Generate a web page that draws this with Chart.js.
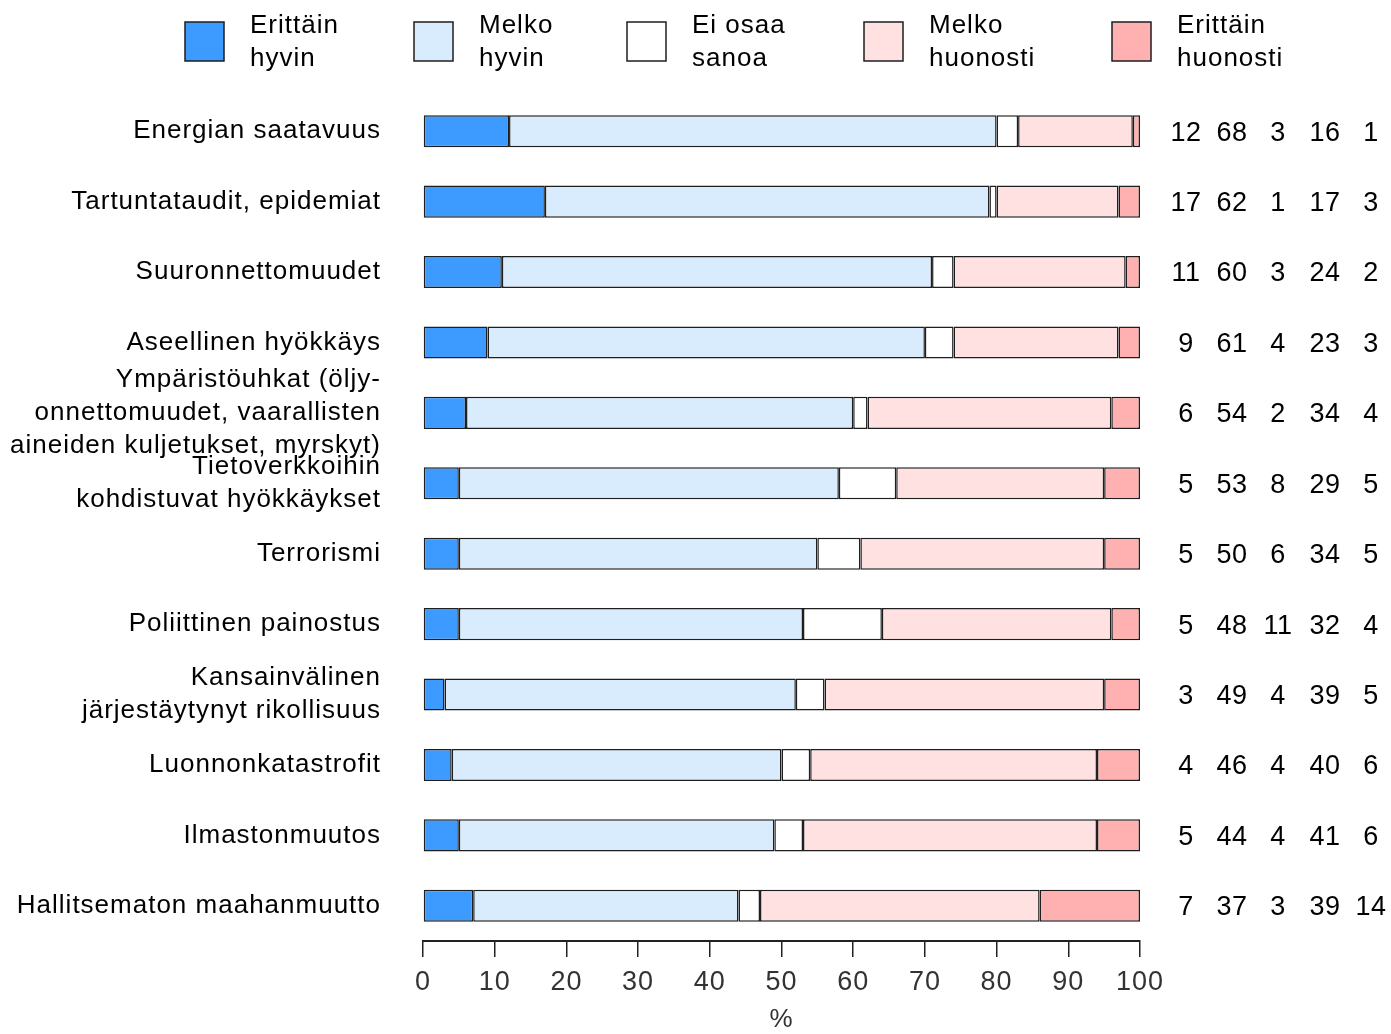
<!DOCTYPE html>
<html>
<head>
<meta charset="utf-8">
<script src="https://cdn.jsdelivr.net/npm/chart.js@4.4.0/dist/chart.umd.min.js"></script>
<style>
    html, body { margin: 0; padding: 0; background: #fff; }
    canvas { display: block; }
</style>
</head>
<body>
<canvas id="chart" width="1391" height="1034"></canvas>
<script>
// Data
const categories = [
    'Energian saatavuus',
    'Tartuntataudit, epidemiat',
    'Suuronnettomuudet',
    'Aseellinen hyökkäys',
    ['Ympäristöuhkat (öljy-', 'onnettomuudet, vaarallisten', 'aineiden kuljetukset, myrskyt)'],
    ['Tietoverkkoihin', 'kohdistuvat hyökkäykset'],
    'Terrorismi',
    'Poliittinen painostus',
    ['Kansainvälinen', 'järjestäytynyt rikollisuus'],
    'Luonnonkatastrofit',
    'Ilmastonmuutos',
    'Hallitsematon maahanmuutto'
];

const seriesLabels = [
    ['Erittäin', 'hyvin'],
    ['Melko', 'hyvin'],
    ['Ei osaa', 'sanoa'],
    ['Melko', 'huonosti'],
    ['Erittäin', 'huonosti']
];

const erittainHyvin    = [12, 17, 11, 9, 6, 5, 5, 5, 3, 4, 5, 7];
const melkoHyvin       = [68, 62, 60, 61, 54, 53, 50, 48, 49, 46, 44, 37];
const eiOsaaSanoa      = [3, 1, 3, 4, 2, 8, 6, 11, 4, 4, 4, 3];
const melkoHuonosti    = [16, 17, 24, 23, 34, 29, 34, 32, 39, 40, 41, 39];
const erittainHuonosti = [1, 3, 2, 3, 4, 5, 5, 4, 5, 6, 6, 14];

const xTicks = [0, 10, 20, 30, 40, 50, 60, 70, 80, 90, 100];

const colors = ['#3d9bff', '#d9ecfd', '#ffffff', '#ffe1e2', '#ffb0b0'];
const edge = '#1e1e1e';
const FONT = '"Liberation Sans", Arial, sans-serif';

const seriesData = [erittainHyvin, melkoHyvin, eiOsaaSanoa, melkoHuonosti, erittainHuonosti];

// slightly looser letter spacing, like the original
const trackingPlugin = {
    id: 'tracking',
    beforeDraw(chart) { chart.ctx.letterSpacing = '1px'; },
    afterDraw(chart) { chart.ctx.letterSpacing = '0px'; }
};

// Legend drawn on top (two-line labels)
const legendPlugin = {
    id: 'topLegend',
    afterDraw(chart) {
        const ctx = chart.ctx;
        const xs = [185, 414, 627, 864, 1112];
        ctx.save();
        ctx.letterSpacing = '1px';
        ctx.font = `26px ${FONT}`;
        ctx.textBaseline = 'middle';
        ctx.textAlign = 'left';
        seriesLabels.forEach((lbl, i) => {
            ctx.fillStyle = colors[i];
            ctx.fillRect(xs[i], 22, 39, 39);
            ctx.strokeStyle = edge;
            ctx.lineWidth = 1.5;
            ctx.strokeRect(xs[i], 22, 39, 39);
            ctx.fillStyle = '#000';
            ctx.fillText(lbl[0], xs[i] + 65, 26);
            ctx.fillText(lbl[1], xs[i] + 65, 59);
        });
        ctx.restore();
    }
};

// Values listed at the right of each bar
const valuesPlugin = {
    id: 'rightValues',
    afterDraw(chart) {
        const ctx = chart.ctx;
        const yScale = chart.scales.y;
        const right = chart.chartArea.right;
        const offsets = [46, 92, 138, 185, 231];
        ctx.save();
        ctx.letterSpacing = '0.5px';
        ctx.font = `27px ${FONT}`;
        ctx.textBaseline = 'middle';
        ctx.textAlign = 'center';
        ctx.fillStyle = '#000';
        categories.forEach((c, i) => {
            const y = yScale.getPixelForValue(i) + 2;
            seriesData.forEach((arr, s) => {
                ctx.fillText(String(arr[i]), right + offsets[s], y);
            });
        });
        ctx.restore();
    }
};

new Chart(document.getElementById('chart'), {
    type: 'bar',
    data: {
        labels: categories,
        datasets: seriesData.map((arr, i) => ({
            label: seriesLabels[i].join(' '),
            data: arr,
            backgroundColor: colors[i],
            borderColor: edge,
            borderWidth: 1.5,
            borderSkipped: false,
            barPercentage: 1,
            categoryPercentage: 0.455
        }))
    },
    options: {
        responsive: false,
        animation: false,
        indexAxis: 'y',
        layout: { padding: { top: 96, right: 251, left: 0, bottom: 0 } },
        plugins: {
            legend: { display: false },
            tooltip: { enabled: false }
        },
        scales: {
            x: {
                stacked: true,
                min: 0,
                max: 100,
                afterBuildTicks(scale) {
                    scale.ticks = xTicks.map(v => ({ value: v }));
                },
                afterFit(scale) { scale.height = 93; },
                ticks: {
                    color: '#333',
                    font: { family: FONT, size: 27 },
                    padding: 9,
                    maxRotation: 0
                },
                grid: {
                    drawOnChartArea: false,
                    drawTicks: true,
                    tickLength: 16,
                    color: '#222',
                    lineWidth: 1.5
                },
                border: { display: true, color: '#222', width: 2 },
                title: {
                    display: true,
                    text: '%',
                    color: '#333',
                    font: { family: FONT, size: 26, lineHeight: 1.1 },
                    padding: { top: 0, bottom: 0 }
                }
            },
            y: {
                stacked: true,
                afterFit(scale) { scale.width = 423; },
                ticks: {
                    color: '#000',
                    font: { family: FONT, size: 26, lineHeight: 1.27 },
                    padding: 42,
                    autoSkip: false
                },
                grid: { display: false, drawTicks: false },
                border: { display: false }
            }
        }
    },
    plugins: [trackingPlugin, legendPlugin, valuesPlugin]
});
</script>
</body>
</html>
